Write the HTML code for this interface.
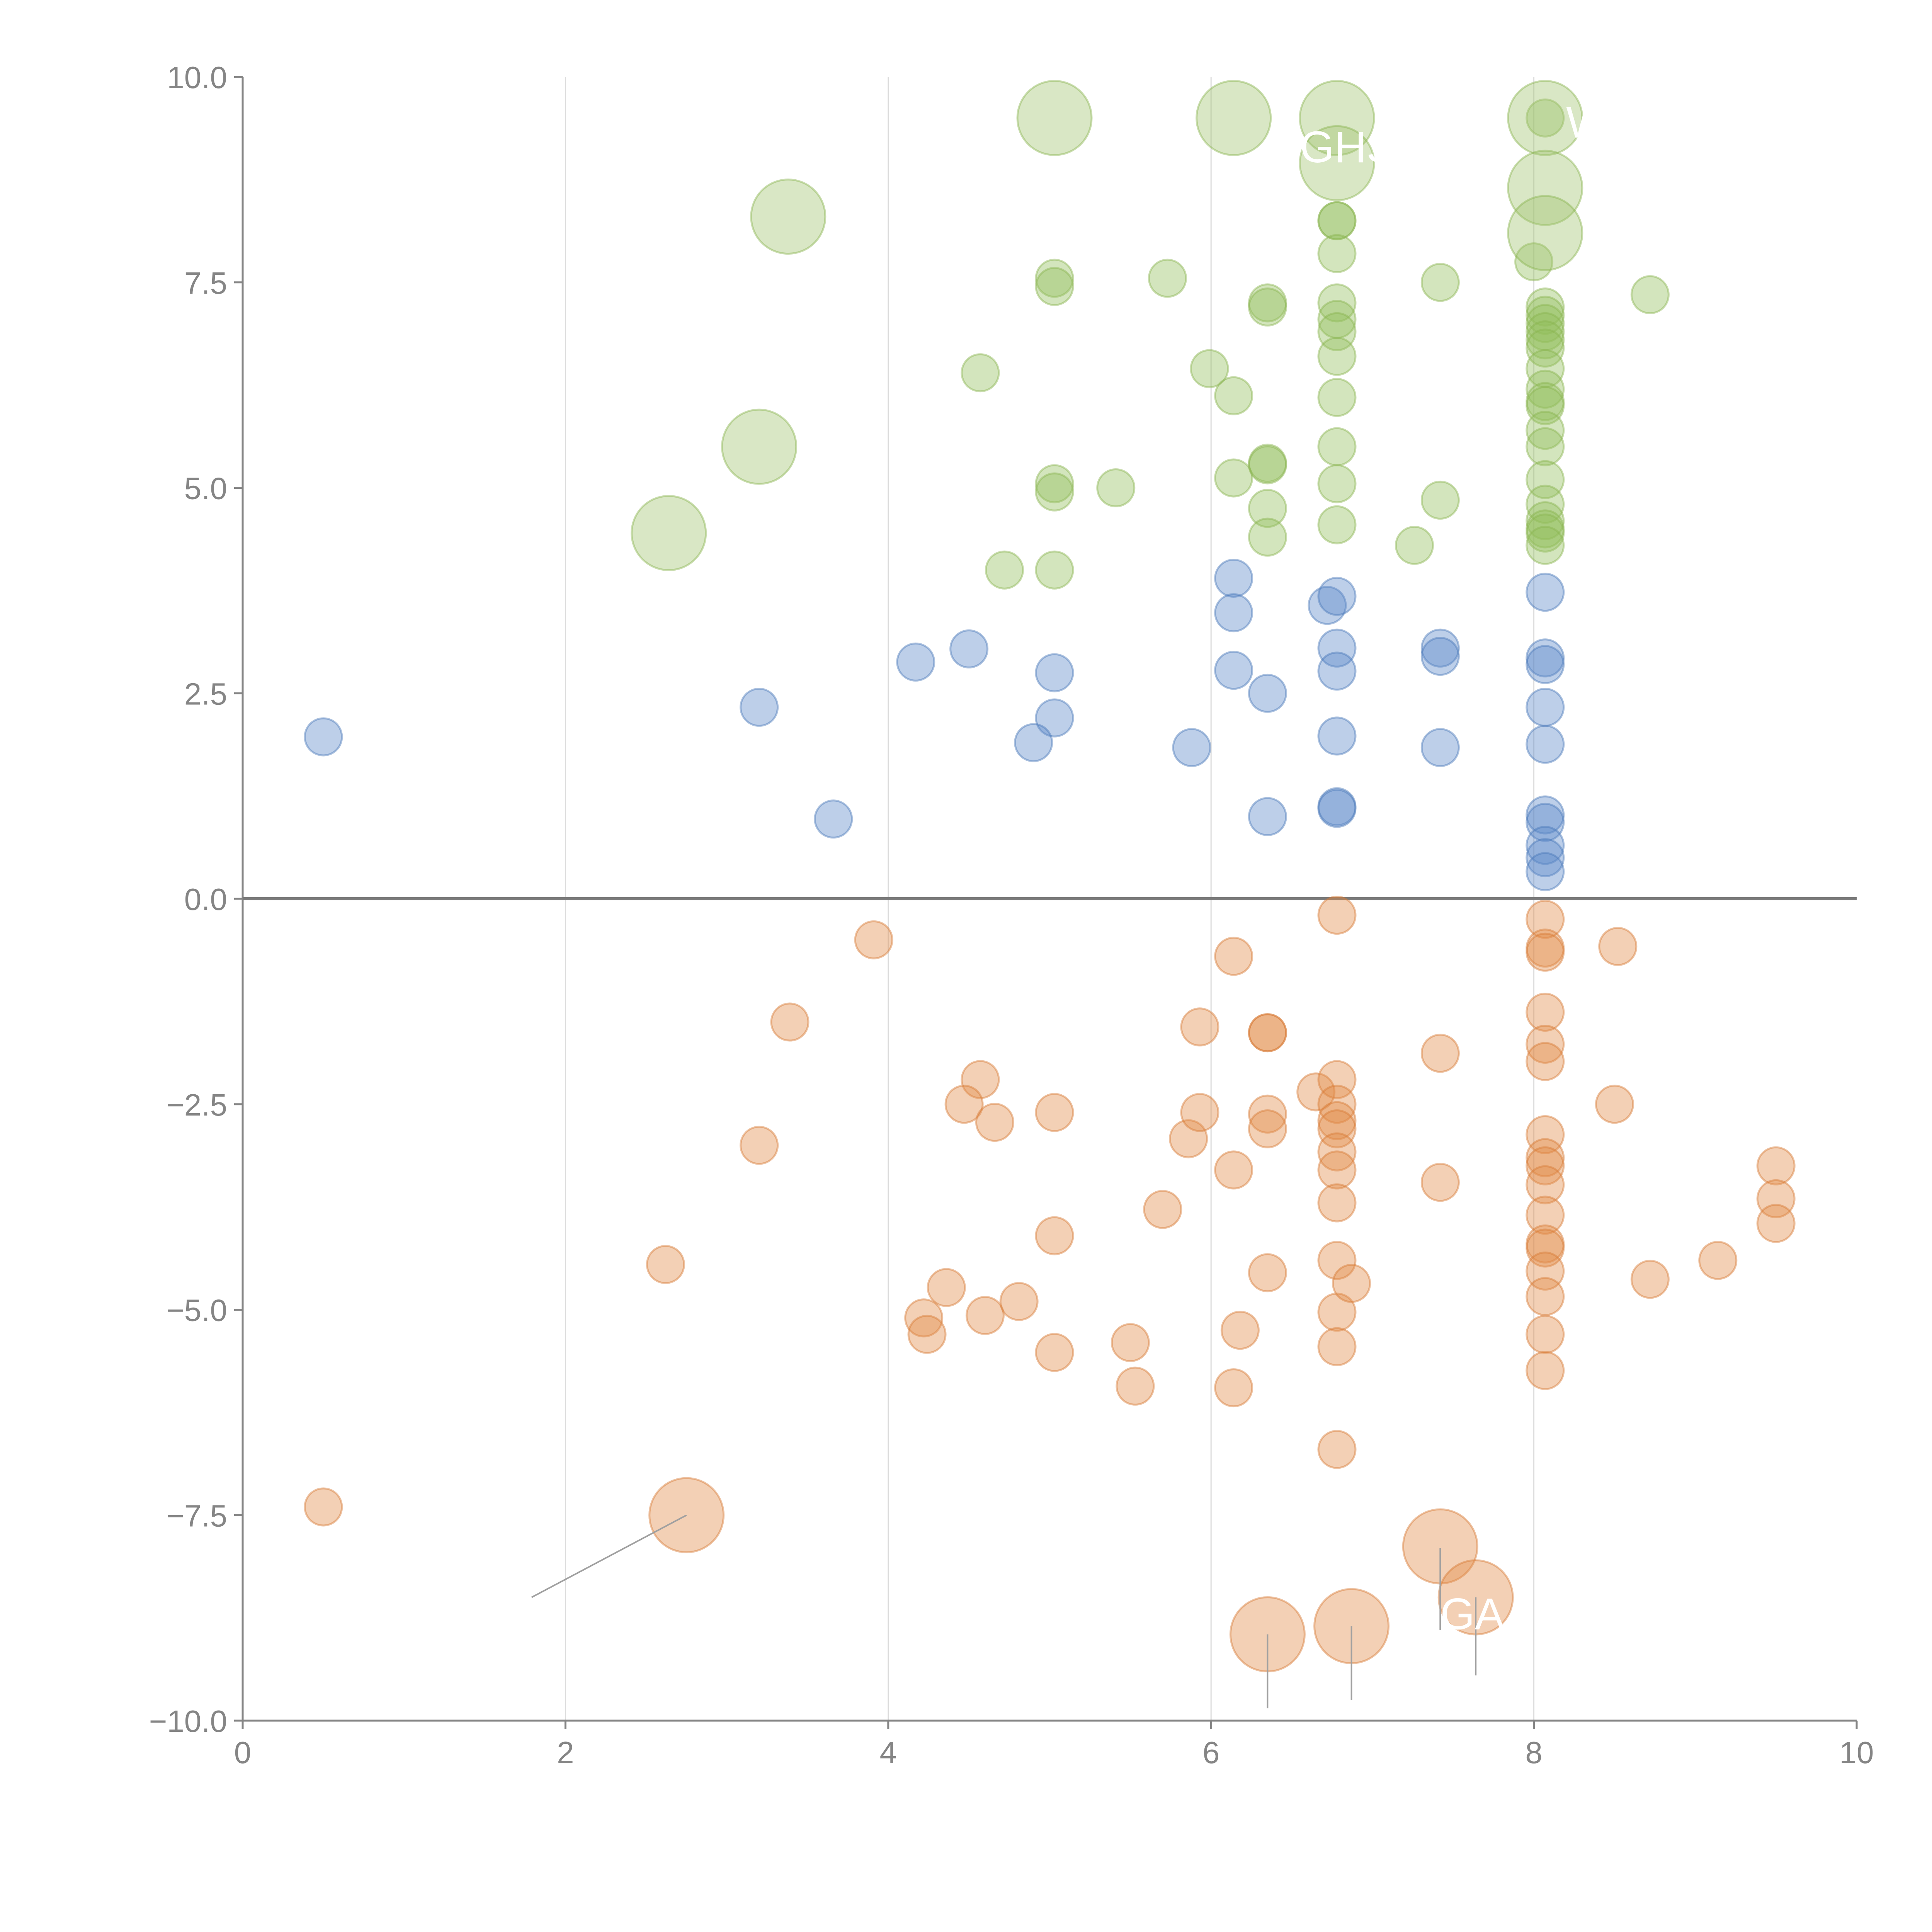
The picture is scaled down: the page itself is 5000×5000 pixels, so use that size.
<!DOCTYPE html>
<html><head><meta charset="utf-8">
<style>html,body{margin:0;padding:0;background:#fff}svg{display:block}</style>
</head><body>
<svg id="chart" width="5000" height="5000" viewBox="0 0 5000 5000" xmlns="http://www.w3.org/2000/svg" font-family="Liberation Sans, Arial, sans-serif">
<g id="grid"></g>
<g id="axes"></g>
<g id="marks"></g>
<g id="labels"></g>
</svg>
<script>
const xTicks = [0,2,4,6,8,10];
const yTicks = [10,7.5,5,2.5,0,-2.5,-5,-7.5,-10];
const yTickLabels = ["10.0","7.5","5.0","2.5","0.0","\u22122.5","\u22125.0","\u22127.5","\u221210.0"];

const greenX = [5.03,5.03,5.73,4.57,5.99,6.14,6.35,6.35,6.78,6.78,6.78,6.78,6.78,6.78,6.78,6.78,6.78,6.78,6.78,7.42,8.72,8.0,8.07,
 8.07,8.07,8.07,8.07,8.07,8.07,8.07,8.07,8.07,8.07,8.07,8.07,8.07,8.07,8.07,8.07,8.07,8.07,
 5.03,5.03,5.41,6.14,6.35,6.35,6.35,6.35,7.42,7.26,4.72,5.03];
const greenY = [7.55,7.45,7.55,6.4,6.45,6.12,7.25,7.2,8.25,8.25,7.85,7.25,7.05,6.9,6.6,6.1,5.5,5.05,4.55,7.5,7.35,7.75,9.5,
 7.2,7.1,7.0,6.9,6.8,6.7,6.45,6.2,6.05,6.0,5.7,5.5,5.1,4.8,4.6,4.5,4.45,4.3,
 5.05,4.95,5.0,5.12,5.3,5.28,4.75,4.4,4.85,4.3,4.0,4.0];
const greenBigX = [5.03,6.14,6.78,6.78,8.07,8.07,8.07,3.38,3.2,2.64];
const greenBigY = [9.5,9.5,9.5,8.95,9.5,8.65,8.1,8.3,5.5,4.45];

const blueX = [0.5,3.2,3.66,4.17,4.5,5.03,5.03,4.9,5.88,6.14,6.14,6.14,6.35,6.35,6.72,6.78,6.78,6.78,6.78,6.78,6.78,7.42,7.42,7.42,8.07,8.07,8.07,8.07,8.07,8.07,8.07,8.07,8.07,8.07];
const blueY = [1.97,2.33,0.97,2.88,3.04,2.75,2.2,1.9,1.84,3.9,3.48,2.78,2.5,1.0,3.57,3.68,3.05,2.77,1.98,1.12,1.1,3.05,2.95,1.84,3.73,2.93,2.85,2.33,1.88,1.02,0.93,0.65,0.5,0.33];

const orangeX = [3.91,3.39,3.2,2.62,0.5,4.57,4.47,4.66,5.03,5.03,4.36,4.22,4.24,4.6,4.81,5.03,5.5,5.53,5.7,5.86,5.93,5.93,6.14,6.14,6.14,6.18,6.35,6.35,6.35,6.35,6.35,6.65,
 6.78,6.78,6.78,6.78,6.78,6.78,6.78,6.78,6.78,6.78,6.78,6.78,6.87,7.42,7.42,
 8.07,8.07,8.07,8.07,8.07,8.07,8.07,8.07,8.07,8.07,8.07,8.07,8.07,8.07,8.07,8.07,8.07,
 8.5,8.52,8.72,9.14,9.5,9.5,9.5];
const orangeY = [-0.5,-1.5,-3.0,-4.45,-7.4,-2.2,-2.5,-2.72,-2.6,-4.1,-4.73,-5.1,-5.3,-5.07,-4.9,-5.52,-5.4,-5.93,-3.78,-2.92,-2.6,-1.56,-0.7,-3.3,-5.95,-5.25,-1.63,-1.63,-2.62,-2.8,-4.55,-2.35,
 -0.2,-2.2,-2.5,-2.7,-2.8,-3.08,-3.3,-3.7,-4.4,-5.03,-5.45,-6.7,-4.68,-1.88,-3.45,
 -0.25,-0.6,-0.65,-1.38,-1.77,-1.98,-2.87,-3.15,-3.25,-3.48,-3.85,-4.2,-4.25,-4.53,-4.84,-5.3,-5.74,
 -2.5,-0.58,-4.63,-4.4,-3.25,-3.65,-3.95];
const orangeBigX = [2.75,7.42,7.64,6.35,6.87];
const orangeBigY = [-7.5,-7.88,-8.5,-8.95,-8.85];

const leaderFromX = [2.75,7.42,7.64,6.35,6.87];
const leaderFromY = [-7.5,-7.9,-8.5,-8.95,-8.85];
const leaderToX = [1.79,7.42,7.64,6.35,6.87];
const leaderToY = [-8.5,-8.9,-9.45,-9.85,-9.75];

const labelText = ["GHS","W","GA"];
const labelX = [6.55,8.2,7.42];
const labelY = [9.15,9.45,-8.7];

const X0=628, X1=4805, Y0=4453, Y1=199;
function sx(v){return X0+(v-0)/(10-0)*(X1-X0);}
function sy(v){return Y0-(v+10)/20*(Y0-Y1);}
const NS="http://www.w3.org/2000/svg";
function mk(tag,parent,attrs){const e=document.createElementNS(NS,tag);for(const k in attrs)e.setAttribute(k,attrs[k]);parent.appendChild(e);return e;}

const grid=document.getElementById('grid'), axes=document.getElementById('axes'), marks=document.getElementById('marks'), labels=document.getElementById('labels');

xTicks.forEach(t=>{
  if(t>0&&t<10){const l=mk('line',grid,{x1:sx(t),x2:sx(t),y1:sy(10),y2:sy(-10),stroke:'#dcdcdc','stroke-width':3});
  
  }
  const tk=mk('line',axes,{x1:sx(t),x2:sx(t),y1:sy(-10),y2:sy(-10)+22,stroke:'#858585','stroke-width':5});
  
  
  const tx=mk('text',axes,{x:sx(t),y:sy(-10)+110,'text-anchor':'middle','font-size':80,fill:'#858585'});
  tx.textContent=t;
  
  
});
yTicks.forEach((t,i)=>{
  const tk=mk('line',axes,{x1:X0-22,x2:X0,y1:sy(t),y2:sy(t),stroke:'#858585','stroke-width':5});
  
  
  const tx=mk('text',axes,{x:X0-40,y:sy(t)+29,'text-anchor':'end','font-size':80,fill:'#858585'});
  tx.textContent=yTickLabels[i];
  
  
});
const ya=mk('line',axes,{x1:X0,x2:X0,y1:sy(10),y2:sy(-10),stroke:'#858585','stroke-width':5});


const xa=mk('line',axes,{x1:X0-22,x2:X1,y1:sy(-10),y2:sy(-10),stroke:'#858585','stroke-width':5});


const zl=mk('line',axes,{x1:X0,x2:X1,y1:sy(0),y2:sy(0),stroke:'#7a7a7a','stroke-width':8});



function series(xs,ys,r,fill,stroke,name){
  xs.forEach((x,i)=>{
    const c=mk('circle',marks,{cx:sx(x),cy:sy(ys[i]),r:r,fill:fill,'fill-opacity':0.4,stroke:stroke,'stroke-opacity':0.45,'stroke-width':5});
    
    
  });
}
series(greenX,greenY,48,'#92bd5a','#8ab450','green-point');
series(greenBigX,greenBigY,96,'#9fc46e','#8ab450','green-large-point');
series(blueX,blueY,48,'#5a88c8','#4a78b8','blue-point');
series(orangeX,orangeY,48,'#e08a45','#d67a35','orange-point');
series(orangeBigX,orangeBigY,96,'#e08a45','#d67a35','orange-large-point');

leaderFromX.forEach((x,i)=>{
  const l=mk('line',labels,{x1:sx(x),y1:sy(leaderFromY[i]),x2:sx(leaderToX[i]),y2:sy(leaderToY[i]),stroke:'#a0a0a0','stroke-width':4});
  
  
});
labelText.forEach((t,i)=>{
  const tx=mk('text',labels,{x:sx(labelX[i]),y:sy(labelY[i])+40,'font-size':115,fill:'#ffffff'});
  tx.textContent=t;
  
  
});
</script>
</body></html>
